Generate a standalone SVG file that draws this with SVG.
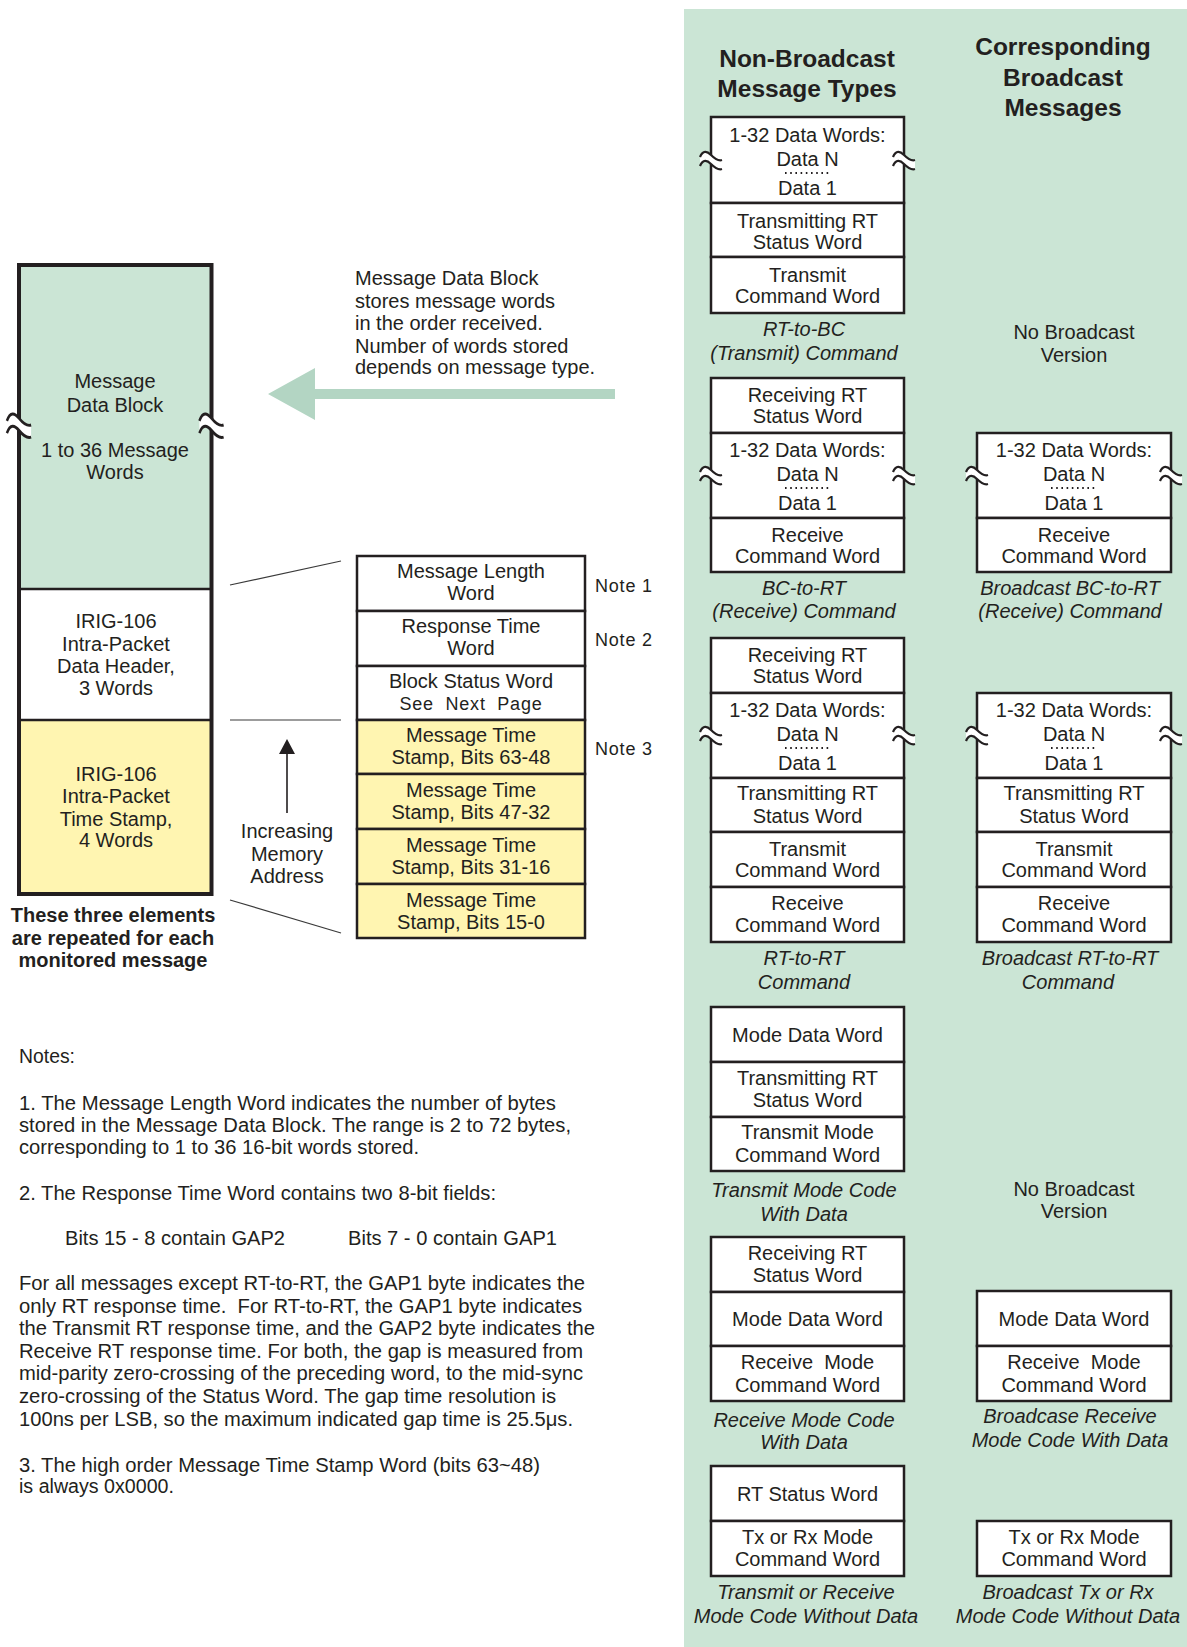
<svg xmlns="http://www.w3.org/2000/svg" width="1187" height="1647" viewBox="0 0 1187 1647">
<style>
.t{font-family:"Liberation Sans",Arial,Helvetica,sans-serif;font-size:20px;fill:#231f20;text-anchor:middle}
.i{font-style:italic}
.h{font-weight:bold;font-size:24.5px}
.b{font-weight:bold}
.s{text-anchor:start}
.n{font-family:"Liberation Sans",Arial,Helvetica,sans-serif;font-size:20px;fill:#231f20}
.nt{font-size:18px;letter-spacing:0.8px}
.c{fill:#fff;stroke:#231f20;stroke-width:2.5}
.y{fill:#fff5b1;stroke:#231f20;stroke-width:2.5}
.dots{stroke:#231f20;stroke-width:1.8;stroke-dasharray:1.6 3.6}
.ln{stroke:#3a3a3a;stroke-width:1.2;fill:none}
</style>
<defs>
<g id="brk">
<path d="M-11,-3 C-8,-10 -4,-9 0,-5 C4,-1 8,1 11,0 L11,9 C8,10 4,8 0,4 C-4,0 -8,-1 -11,6 Z" fill="#fff"/>
<path d="M-11,-3 C-8,-10 -4,-9 0,-5 C4,-1 8,1 11,0 M-11,6 C-8,-1 -4,0 0,4 C4,8 8,10 11,9" fill="none" stroke="#231f20" stroke-width="2.2"/>
</g>
</defs>
<rect x="0" y="0" width="1187" height="1647" fill="#fff"/>
<rect id="panel" x="684" y="9" width="503" height="1638" fill="#cbe5d5"/>

<g id="headers">
<text class="t h" x="807" y="67">Non-Broadcast</text>
<text class="t h" x="807" y="97">Message Types</text>
<text class="t h" x="1063" y="55">Corresponding</text>
<text class="t h" x="1063" y="86">Broadcast</text>
<text class="t h" x="1063" y="116">Messages</text>
</g>

<g id="left-block">
<rect x="19" y="265" width="192.5" height="324" fill="#cbe5d5"/>
<rect x="19" y="589" width="192.5" height="131" fill="#fff"/>
<rect x="19" y="720" width="192.5" height="174" fill="#fff5b1"/>
<line x1="19" y1="589" x2="211.5" y2="589" stroke="#231f20" stroke-width="2.5"/>
<line x1="19" y1="720" x2="211.5" y2="720" stroke="#231f20" stroke-width="2.5"/>
<rect x="19" y="265" width="192.5" height="629" fill="none" stroke="#231f20" stroke-width="4"/>
<use href="#brk" transform="translate(19,425) scale(1.1,1.35)"/>
<use href="#brk" transform="translate(211.5,425) scale(1.1,1.35)"/>
<text class="t" x="115" y="388">Message</text>
<text class="t" x="115" y="412">Data Block</text>
<text class="t" x="115" y="457">1 to 36 Message</text>
<text class="t" x="115" y="479">Words</text>
<text class="t" x="116" y="628">IRIG-106</text>
<text class="t" x="116" y="651">Intra-Packet</text>
<text class="t" x="116" y="673">Data Header,</text>
<text class="t" x="116" y="695">3 Words</text>
<text class="t" x="116" y="781">IRIG-106</text>
<text class="t" x="116" y="803">Intra-Packet</text>
<text class="t" x="116" y="826">Time Stamp,</text>
<text class="t" x="116" y="847">4 Words</text>
</g>
<g id="repeat-label">
<text class="t b" x="113" y="922">These three elements</text>
<text class="t b" x="113" y="945">are repeated for each</text>
<text class="t b" x="113" y="967">monitored message</text>
</g>

<g id="data-block-desc">
<text class="t s" x="355" y="285" font-size="19.5">Message Data Block</text>
<text class="t s" x="355" y="308" font-size="19.5">stores message words</text>
<text class="t s" x="355" y="330" font-size="19.5">in the order received.</text>
<text class="t s" x="355" y="353" font-size="19.5">Number of words stored</text>
<text class="t s" x="355" y="374" font-size="19.5">depends on message type.</text>
</g>

<g id="header-table">
<rect class="c" x="357" y="556" width="228" height="55"/>
<rect class="c" x="357" y="611" width="228" height="55"/>
<rect class="c" x="357" y="666" width="228" height="54"/>
<rect class="y" x="357" y="720" width="228" height="54"/>
<rect class="y" x="357" y="774" width="228" height="55"/>
<rect class="y" x="357" y="829" width="228" height="55"/>
<rect class="y" x="357" y="884" width="228" height="54"/>
<text class="t" x="471" y="578">Message Length</text>
<text class="t" x="471" y="600">Word</text>
<text class="t" x="471" y="633">Response Time</text>
<text class="t" x="471" y="655">Word</text>
<text class="t" x="471" y="688">Block Status Word</text>
<text class="t nt" x="471" y="710" font-size="17.5">See&#160; Next&#160; Page</text>
<text class="t" x="471" y="742">Message Time</text>
<text class="t" x="471" y="764">Stamp, Bits 63-48</text>
<text class="t" x="471" y="797">Message Time</text>
<text class="t" x="471" y="819">Stamp, Bits 47-32</text>
<text class="t" x="471" y="852">Message Time</text>
<text class="t" x="471" y="874">Stamp, Bits 31-16</text>
<text class="t" x="471" y="907">Message Time</text>
<text class="t" x="471" y="929">Stamp, Bits 15-0</text>
<text class="t s nt" x="595" y="592">Note 1</text>
<text class="t s nt" x="595" y="646">Note 2</text>
<text class="t s nt" x="595" y="755">Note 3</text>
</g>

<g id="memory-label">
<text class="t" x="287" y="838">Increasing</text>
<text class="t" x="287" y="861">Memory</text>
<text class="t" x="287" y="883">Address</text>
</g>

<g id="connectors">
<path d="M268,394 L315,368 L315,389 L615,389 L615,399 L315,399 L315,420 Z" fill="#b3d5c3"/>
<line class="ln" x1="230" y1="585" x2="341" y2="561"/>
<line class="ln" x1="230" y1="720" x2="341" y2="720"/>
<line class="ln" x1="230" y1="900" x2="341" y2="933"/>
<line x1="287" y1="813" x2="287" y2="752" stroke="#231f20" stroke-width="1.6"/>
<path d="M287,739 L279,754 L295,754 Z" fill="#231f20"/>
</g>

<g id="msg-rt-to-bc">
<rect class="c" x="711" y="117" width="193" height="86"/>
<rect class="c" x="711" y="203" width="193" height="54"/>
<rect class="c" x="711" y="257" width="193" height="56"/>
<use href="#brk" x="711" y="160"/>
<use href="#brk" x="904" y="160"/>
<text class="t" x="807.5" y="142">1-32 Data Words:</text>
<text class="t" x="807.5" y="166">Data N</text>
<line class="dots" x1="785" y1="173" x2="831" y2="173"/>
<text class="t" x="807.5" y="195">Data 1</text>
<text class="t" x="807.5" y="227.5">Transmitting RT</text>
<text class="t" x="807.5" y="248.5">Status Word</text>
<text class="t" x="807.5" y="282">Transmit</text>
<text class="t" x="807.5" y="303">Command Word</text>
<text class="t i" x="804" y="336">RT-to-BC</text>
<text class="t i" x="804" y="360">(Transmit) Command</text>
</g>
<g id="bcast-rt-to-bc">
<text class="t" x="1074" y="339">No Broadcast</text>
<text class="t" x="1074" y="362">Version</text>
</g>

<g id="msg-bc-to-rt">
<rect class="c" x="711" y="378" width="193" height="55"/>
<rect class="c" x="711" y="433" width="193" height="85"/>
<rect class="c" x="711" y="518" width="193" height="54"/>
<use href="#brk" x="711" y="475"/>
<use href="#brk" x="904" y="475"/>
<text class="t" x="807.5" y="402">Receiving RT</text>
<text class="t" x="807.5" y="423">Status Word</text>
<text class="t" x="807.5" y="457">1-32 Data Words:</text>
<text class="t" x="807.5" y="481">Data N</text>
<line class="dots" x1="785" y1="488" x2="831" y2="488"/>
<text class="t" x="807.5" y="510">Data 1</text>
<text class="t" x="807.5" y="541.5">Receive</text>
<text class="t" x="807.5" y="563">Command Word</text>
<text class="t i" x="804" y="595">BC-to-RT</text>
<text class="t i" x="804" y="618">(Receive) Command</text>
</g>
<g id="bcast-bc-to-rt">
<rect class="c" x="977" y="433" width="194" height="85"/>
<rect class="c" x="977" y="518" width="194" height="54"/>
<use href="#brk" x="977" y="475"/>
<use href="#brk" x="1171" y="475"/>
<text class="t" x="1074" y="457">1-32 Data Words:</text>
<text class="t" x="1074" y="481">Data N</text>
<line class="dots" x1="1051" y1="488" x2="1097" y2="488"/>
<text class="t" x="1074" y="510">Data 1</text>
<text class="t" x="1074" y="541.5">Receive</text>
<text class="t" x="1074" y="563">Command Word</text>
<text class="t i" x="1070" y="595">Broadcast BC-to-RT</text>
<text class="t i" x="1070" y="618">(Receive) Command</text>
</g>

<g id="msg-rt-to-rt">
<rect class="c" x="711" y="638" width="193" height="55"/>
<rect class="c" x="711" y="693" width="193" height="85"/>
<rect class="c" x="711" y="778" width="193" height="54"/>
<rect class="c" x="711" y="832" width="193" height="55"/>
<rect class="c" x="711" y="887" width="193" height="55"/>
<use href="#brk" x="711" y="735"/>
<use href="#brk" x="904" y="735"/>
<text class="t" x="807.5" y="662">Receiving RT</text>
<text class="t" x="807.5" y="683">Status Word</text>
<text class="t" x="807.5" y="717">1-32 Data Words:</text>
<text class="t" x="807.5" y="741">Data N</text>
<line class="dots" x1="785" y1="748" x2="831" y2="748"/>
<text class="t" x="807.5" y="770">Data 1</text>
<text class="t" x="807.5" y="800">Transmitting RT</text>
<text class="t" x="807.5" y="823">Status Word</text>
<text class="t" x="807.5" y="856">Transmit</text>
<text class="t" x="807.5" y="877">Command Word</text>
<text class="t" x="807.5" y="910">Receive</text>
<text class="t" x="807.5" y="932">Command Word</text>
<text class="t i" x="804" y="965">RT-to-RT</text>
<text class="t i" x="804" y="989">Command</text>
</g>
<g id="bcast-rt-to-rt">
<rect class="c" x="977" y="693" width="194" height="85"/>
<rect class="c" x="977" y="778" width="194" height="54"/>
<rect class="c" x="977" y="832" width="194" height="55"/>
<rect class="c" x="977" y="887" width="194" height="55"/>
<use href="#brk" x="977" y="735"/>
<use href="#brk" x="1171" y="735"/>
<text class="t" x="1074" y="717">1-32 Data Words:</text>
<text class="t" x="1074" y="741">Data N</text>
<line class="dots" x1="1051" y1="748" x2="1097" y2="748"/>
<text class="t" x="1074" y="770">Data 1</text>
<text class="t" x="1074" y="800">Transmitting RT</text>
<text class="t" x="1074" y="823">Status Word</text>
<text class="t" x="1074" y="856">Transmit</text>
<text class="t" x="1074" y="877">Command Word</text>
<text class="t" x="1074" y="910">Receive</text>
<text class="t" x="1074" y="932">Command Word</text>
<text class="t i" x="1070" y="965">Broadcast RT-to-RT</text>
<text class="t i" x="1068" y="989">Command</text>
</g>

<g id="msg-tx-mode-data">
<rect class="c" x="711" y="1007" width="193" height="55"/>
<rect class="c" x="711" y="1062" width="193" height="55"/>
<rect class="c" x="711" y="1117" width="193" height="54"/>
<text class="t" x="807.5" y="1042">Mode Data Word</text>
<text class="t" x="807.5" y="1085">Transmitting RT</text>
<text class="t" x="807.5" y="1107">Status Word</text>
<text class="t" x="807.5" y="1139">Transmit Mode</text>
<text class="t" x="807.5" y="1162">Command Word</text>
<text class="t i" x="804" y="1197">Transmit Mode Code</text>
<text class="t i" x="804" y="1221">With Data</text>
</g>
<g id="bcast-tx-mode-data">
<text class="t" x="1074" y="1196">No Broadcast</text>
<text class="t" x="1074" y="1218">Version</text>
</g>

<g id="msg-rx-mode-data">
<rect class="c" x="711" y="1237" width="193" height="55"/>
<rect class="c" x="711" y="1292" width="193" height="54"/>
<rect class="c" x="711" y="1346" width="193" height="55"/>
<text class="t" x="807.5" y="1260">Receiving RT</text>
<text class="t" x="807.5" y="1282">Status Word</text>
<text class="t" x="807.5" y="1326">Mode Data Word</text>
<text class="t" x="807.5" y="1369">Receive&#160; Mode</text>
<text class="t" x="807.5" y="1392">Command Word</text>
<text class="t i" x="804" y="1427">Receive Mode Code</text>
<text class="t i" x="804" y="1449">With Data</text>
</g>
<g id="bcast-rx-mode-data">
<rect class="c" x="977" y="1291" width="194" height="55"/>
<rect class="c" x="977" y="1346" width="194" height="55"/>
<text class="t" x="1074" y="1326">Mode Data Word</text>
<text class="t" x="1074" y="1369">Receive&#160; Mode</text>
<text class="t" x="1074" y="1392">Command Word</text>
<text class="t i" x="1070" y="1423">Broadcase Receive</text>
<text class="t i" x="1070" y="1447">Mode Code With Data</text>
</g>

<g id="msg-mode-nodata">
<rect class="c" x="711" y="1466" width="193" height="55"/>
<rect class="c" x="711" y="1521" width="193" height="55"/>
<text class="t" x="807.5" y="1501">RT Status Word</text>
<text class="t" x="807.5" y="1544">Tx or Rx Mode</text>
<text class="t" x="807.5" y="1566">Command Word</text>
<text class="t i" x="806" y="1599">Transmit or Receive</text>
<text class="t i" x="806" y="1623">Mode Code Without Data</text>
</g>
<g id="bcast-mode-nodata">
<rect class="c" x="977" y="1521" width="194" height="55"/>
<text class="t" x="1074" y="1544">Tx or Rx Mode</text>
<text class="t" x="1074" y="1566">Command Word</text>
<text class="t i" x="1068" y="1599">Broadcast Tx or Rx</text>
<text class="t i" x="1068" y="1623">Mode Code Without Data</text>
</g>

<g id="notes" class="n">
<text x="19" y="1063" textLength="56" lengthAdjust="spacingAndGlyphs">Notes:</text>
<text x="19" y="1110" textLength="537" lengthAdjust="spacingAndGlyphs">1. The Message Length Word indicates the number of bytes</text>
<text x="19" y="1132" textLength="552" lengthAdjust="spacingAndGlyphs">stored in the Message Data Block. The range is 2 to 72 bytes,</text>
<text x="19" y="1154" textLength="400" lengthAdjust="spacingAndGlyphs">corresponding to 1 to 36 16-bit words stored.</text>
<text x="19" y="1200" textLength="477" lengthAdjust="spacingAndGlyphs">2. The Response Time Word contains two 8-bit fields:</text>
<text x="65" y="1245" textLength="220" lengthAdjust="spacingAndGlyphs">Bits 15 - 8 contain GAP2</text>
<text x="348" y="1245" textLength="209" lengthAdjust="spacingAndGlyphs">Bits 7 - 0 contain GAP1</text>
<text x="19" y="1290" textLength="566" lengthAdjust="spacingAndGlyphs">For all messages except RT-to-RT, the GAP1 byte indicates the</text>
<text x="19" y="1313" textLength="563" lengthAdjust="spacingAndGlyphs" xml:space="preserve">only RT response time.  For RT-to-RT, the GAP1 byte indicates</text>
<text x="19" y="1335" textLength="576" lengthAdjust="spacingAndGlyphs">the Transmit RT response time, and the GAP2 byte indicates the</text>
<text x="19" y="1358" textLength="564" lengthAdjust="spacingAndGlyphs">Receive RT response time. For both, the gap is measured from</text>
<text x="19" y="1380" textLength="564" lengthAdjust="spacingAndGlyphs">mid-parity zero-crossing of the preceding word, to the mid-sync</text>
<text x="19" y="1403" textLength="537" lengthAdjust="spacingAndGlyphs">zero-crossing of the Status Word. The gap time resolution is</text>
<text x="19" y="1426" textLength="554" lengthAdjust="spacingAndGlyphs">100ns per LSB, so the maximum indicated gap time is 25.5μs.</text>
<text x="19" y="1472" textLength="521" lengthAdjust="spacingAndGlyphs">3. The high order Message Time Stamp Word (bits 63~48)</text>
<text x="19" y="1493" textLength="155" lengthAdjust="spacingAndGlyphs">is always 0x0000.</text>
</g>
</svg>
